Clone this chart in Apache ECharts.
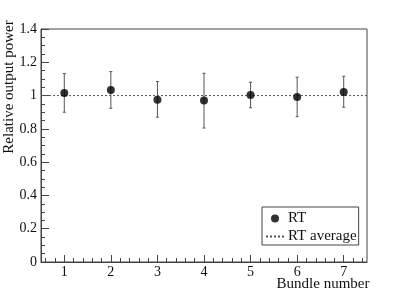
<!DOCTYPE html>
<html><head><meta charset="utf-8">
<script src="https://cdn.jsdelivr.net/npm/echarts@6/dist/echarts.min.js"></script>
<style>html,body{margin:0;padding:0;background:#fff}#c{width:407px;height:291px}</style>
</head><body><div id="c"></div>
<script>
const bundles = [1, 2, 3, 4, 5, 6, 7];
const rtValues = [1.016, 1.034, 0.975, 0.970, 1.004, 0.992, 1.022];
const errHigh = [1.132, 1.144, 1.084, 1.134, 1.080, 1.110, 1.116];
const errLow  = [0.900, 0.924, 0.870, 0.805, 0.927, 0.873, 0.930];
const rtAverage = 1.0;
const xRange = [0.5, 7.5];
const xTickLabels = [1, 2, 3, 4, 5, 6, 7];
const yTicks = [0, 0.2, 0.4, 0.6, 0.8, 1, 1.2, 1.4];

// minor tick positions every 0.2 between integer bundles (axis decoration)
const xMinorTicks = [];
for (let k = 3; k <= 37; k++) { const v = +(k * 0.2).toFixed(1); if (v > xRange[0] && v < xRange[1] && !Number.isInteger(v)) xMinorTicks.push(v); }

const font = 'Liberation Serif';
const axisColor = '#444';
const textColor = '#111';
const chart = echarts.init(document.getElementById('c'), null, {renderer: 'canvas'});
chart.setOption({
  animation: false,
  grid: {left: 41, top: 29, right: 40, bottom: 29, containLabel: false, outerBoundsMode: 'none',
         show: true, borderColor: axisColor, borderWidth: 1, backgroundColor: 'transparent'},
  xAxis: [{
    type: 'value', min: xRange[0], max: xRange[1], interval: 1,
    name: 'Bundle number', nameLocation: 'middle', nameGap: 15, nameMoveOverlap: false,
    nameTextStyle: {fontFamily: font, fontSize: 15, color: textColor, padding: [0, 0, 0, 238]},
    axisLine: {lineStyle: {color: axisColor}},
    axisTick: {inside: true, length: 7, customValues: xTickLabels, lineStyle: {color: axisColor}},
    splitLine: {show: false},
    axisLabel: {fontFamily: font, fontSize: 14, color: textColor, margin: 3, customValues: xTickLabels}
  }, {
    type: 'value', min: xRange[0], max: xRange[1], position: 'bottom',
    axisLine: {show: false},
    axisTick: {inside: true, length: 4, customValues: xMinorTicks, lineStyle: {color: axisColor}},
    axisLabel: {show: false}, splitLine: {show: false}
  }],
  yAxis: {
    type: 'value', min: yTicks[0], max: yTicks[yTicks.length-1], interval: 0.2,
    name: 'Relative output power', nameLocation: 'middle', nameGap: 24, nameRotate: 90, nameMoveOverlap: false,
    nameTextStyle: {fontFamily: font, fontSize: 15, color: textColor, padding: [0, 0, 0, 117]},
    axisLine: {lineStyle: {color: axisColor}},
    axisTick: {inside: true, length: 8, lineStyle: {color: axisColor}},
    minorTick: {show: true, splitNumber: 4, length: 4, lineStyle: {color: axisColor}},
    splitLine: {show: false},
    axisLabel: {fontFamily: font, fontSize: 14, color: textColor, margin: 4}
  },
  legend: {
    orient: 'vertical', left: 262, top: 207,
    backgroundColor: '#fff', borderColor: axisColor, borderWidth: 1, borderRadius: 0,
    padding: [4, 2, 1, 3], itemWidth: 18, itemHeight: 8, itemGap: 3,
    textStyle: {fontFamily: font, fontSize: 15, color: textColor, padding: [0, 0, 0, -1]},
    data: [{name: 'RT', icon: 'circle'}, {name: 'RT average', itemStyle: {opacity: 0}}]
  },
  series: [
    {
      type: 'line', name: 'RT average', symbol: 'none', silent: true,
      data: [[xRange[0], rtAverage], [xRange[1], rtAverage]],
      itemStyle: {color: '#555'},
      lineStyle: {color: '#555', width: 1, type: [2, 2]}, z: 1
    },
    {
      type: 'custom', name: 'err', silent: true, z: 2,
      data: bundles.map((b, i) => [b, errLow[i], errHigh[i]]),
      renderItem: (params, api) => {
        const x = api.value(0);
        const lo = api.coord([x, api.value(1)]);
        const hi = api.coord([x, api.value(2)]);
        const c = 1.5;
        const st = {stroke: '#555', lineWidth: 1};
        return {type: 'group', children: [
          {type: 'line', shape: {x1: lo[0], y1: lo[1], x2: hi[0], y2: hi[1]}, style: st},
          {type: 'line', shape: {x1: lo[0]-c, y1: lo[1], x2: lo[0]+c, y2: lo[1]}, style: st},
          {type: 'line', shape: {x1: hi[0]-c, y1: hi[1], x2: hi[0]+c, y2: hi[1]}, style: st}
        ]};
      }
    },
    {
      type: 'scatter', name: 'RT', symbol: 'circle', symbolSize: 8, z: 3,
      data: bundles.map((b, i) => [b, rtValues[i]]),
      itemStyle: {color: '#000'}
    }
  ]
});
</script></body></html>
